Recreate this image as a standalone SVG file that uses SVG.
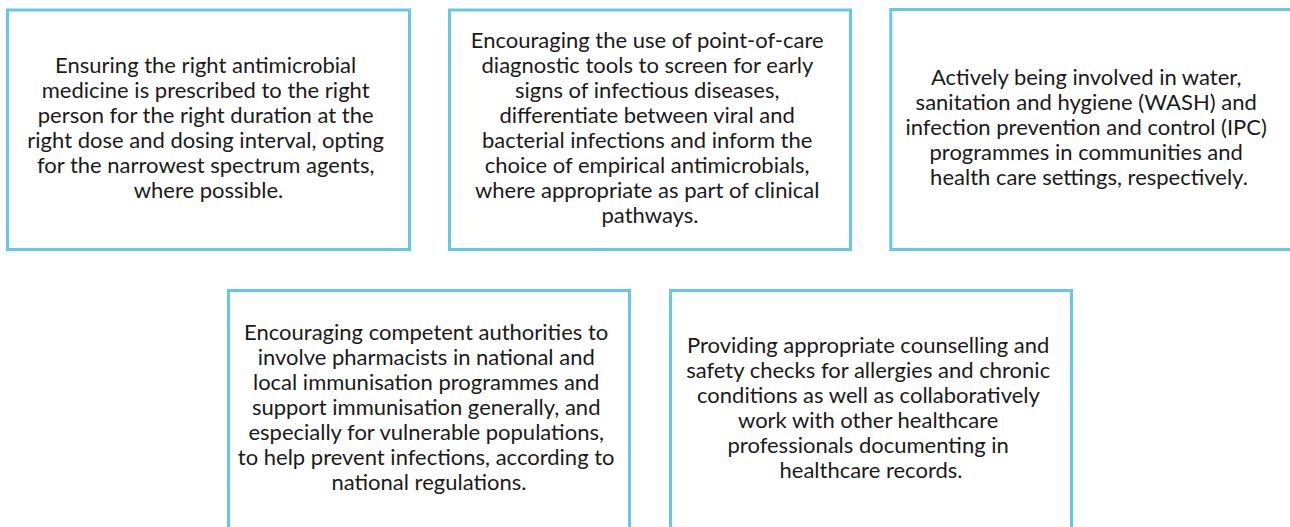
<svg xmlns="http://www.w3.org/2000/svg" width="1290" height="527" viewBox="0 0 1290 527">
  <style>
    .box { fill: #ffffff; stroke: #66c8e8; stroke-width: 3; }
    .label { font-family: Lato, "Open Sans", sans-serif; font-size: 22px; fill: #1a1a1a; text-anchor: middle; }
  </style>
  <rect width="1290" height="527" fill="#ffffff"/>

  <!-- top row -->
  <g id="node-prescribing">
    <rect class="box" x="7.5" y="10" width="402" height="239.5"/>
    <text class="label">
      <tspan x="208.5" y="72.5">Ensuring the right antimicrobial</tspan>
      <tspan x="208.5" y="97.5">medicine is prescribed to the right</tspan>
      <tspan x="208.5" y="122.5">person for the right duration at the</tspan>
      <tspan x="208.5" y="147.5">right dose and dosing interval, opting</tspan>
      <tspan x="208.5" y="172.5">for the narrowest spectrum agents,</tspan>
      <tspan x="208.5" y="197.5">where possible.</tspan>
    </text>
  </g>

  <g id="node-diagnostics">
    <rect class="box" x="449.5" y="10" width="401" height="239.5"/>
    <text class="label">
      <tspan x="650" y="47.5">Encouraging the use of point-of-care</tspan>
      <tspan x="650" y="72.5">diagnostic tools to screen for early</tspan>
      <tspan x="650" y="97.5">signs of infectious diseases,</tspan>
      <tspan x="650" y="122.5">differentiate between viral and</tspan>
      <tspan x="650" y="147.5">bacterial infections and inform the</tspan>
      <tspan x="650" y="172.5">choice of empirical antimicrobials,</tspan>
      <tspan x="650" y="197.5">where appropriate as part of clinical</tspan>
      <tspan x="650" y="222.5">pathways.</tspan>
    </text>
  </g>

  <g id="node-wash-ipc">
    <rect class="box" x="890.8" y="9.5" width="402" height="240"/>
    <text class="label">
      <tspan x="1089" y="85">Actively being involved in water,</tspan>
      <tspan x="1089" y="110">sanitation and hygiene (WASH) and</tspan>
      <tspan x="1089" y="135">infection prevention and control (IPC)</tspan>
      <tspan x="1089" y="160">programmes in communities and</tspan>
      <tspan x="1089" y="185">health care settings, respectively.</tspan>
    </text>
  </g>

  <!-- bottom row -->
  <g id="node-immunisation">
    <rect class="box" x="228.5" y="290.5" width="401" height="240"/>
    <text class="label">
      <tspan x="429" y="340">Encouraging competent authorities to</tspan>
      <tspan x="429" y="365">involve pharmacists in national and</tspan>
      <tspan x="429" y="390">local immunisation programmes and</tspan>
      <tspan x="429" y="415">support immunisation generally, and</tspan>
      <tspan x="429" y="440">especially for vulnerable populations,</tspan>
      <tspan x="429" y="465">to help prevent infections, according to</tspan>
      <tspan x="429" y="490">national regulations.</tspan>
    </text>
  </g>

  <g id="node-counselling">
    <rect class="box" x="670.5" y="290.5" width="401" height="240"/>
    <text class="label">
      <tspan x="871" y="352.5">Providing appropriate counselling and</tspan>
      <tspan x="871" y="377.5">safety checks for allergies and chronic</tspan>
      <tspan x="871" y="402.5">conditions as well as collaboratively</tspan>
      <tspan x="871" y="427.5">work with other healthcare</tspan>
      <tspan x="871" y="452.5">professionals documenting in</tspan>
      <tspan x="871" y="477.5">healthcare records.</tspan>
    </text>
  </g>

  <!-- no connectors between the boxes -->
  <g id="connectors"/>
</svg>
